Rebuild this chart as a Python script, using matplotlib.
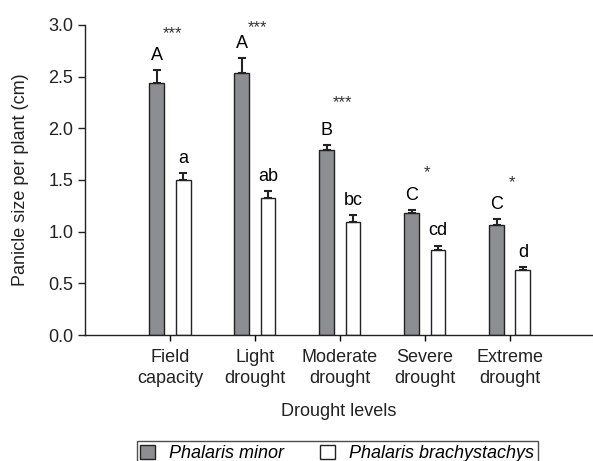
import matplotlib
matplotlib.use("Agg")
import matplotlib.pyplot as plt
import numpy as np

plt.rcParams['font.family'] = ['Liberation Sans', 'DejaVu Sans']

# data
levels = ["Field\ncapacity", "Light\ndrought", "Moderate\ndrought",
          "Severe\ndrought", "Extreme\ndrought"]
minor_mean = [2.44, 2.54, 1.79, 1.18, 1.065]
minor_err = [0.12, 0.14, 0.05, 0.03, 0.06]
brachy_mean = [1.50, 1.33, 1.09, 0.82, 0.63]
brachy_err = [0.065, 0.065, 0.07, 0.045, 0.03]
minor_letters = ["A", "A", "B", "C", "C"]
brachy_letters = ["a", "ab", "bc", "cd", "d"]
stars = ["***", "***", "***", "*", "*"]
star_y = [2.92, 2.97, 2.25, 1.57, 1.47]

x = np.arange(len(levels))
w = 0.175
off = 0.155
fs = 13

fig = plt.figure(figsize=(5.93, 4.61), dpi=100)
ax = fig.add_axes([0.1433, 0.2733, 0.8567, 0.6725])

ax.bar(x - off, minor_mean, w, color='#8d8e92', edgecolor='#222222', lw=1,
       yerr=[np.zeros(5), minor_err], capsize=3,
       error_kw=dict(ecolor='#222222', elinewidth=1.5, capthick=1.5),
       label='Phalaris minor')
ax.bar(x + off, brachy_mean, w, color='white', edgecolor='#222222', lw=1,
       yerr=[np.zeros(5), brachy_err], capsize=3,
       error_kw=dict(ecolor='#222222', elinewidth=1.5, capthick=1.5),
       label='Phalaris brachystachys')

for i in range(len(levels)):
    ax.text(x[i] - off, minor_mean[i] + minor_err[i] + 0.06, minor_letters[i],
            ha='center', va='bottom', fontsize=fs)
    ax.text(x[i] + off, brachy_mean[i] + brachy_err[i] + 0.06, brachy_letters[i],
            ha='center', va='bottom', fontsize=fs)
    ax.text(x[i] + 0.03, star_y[i], stars[i], ha='center', va='center',
            fontsize=12, color='#333333')

ax.set_xlim(-1.0, 4.98)
ax.set_ylim(0, 3.0)
ax.set_yticks(np.arange(0, 3.01, 0.5))
ax.set_yticklabels([f"{v:.1f}" for v in np.arange(0, 3.01, 0.5)])
ax.set_xticks(x)
ax.set_xticklabels(levels, fontsize=fs, color='#222222', linespacing=1.3)
ax.tick_params(axis='y', labelsize=fs, colors='#222222', length=5, width=1)
ax.tick_params(axis='x', length=4, width=1, pad=6)
ax.spines['top'].set_visible(False)
ax.spines['right'].set_visible(False)
for s in ['left', 'bottom']:
    ax.spines[s].set_color('#222222')
    ax.spines[s].set_linewidth(1)

ax.set_ylabel("Panicle size per plant (cm)", fontsize=fs, color='#222222', labelpad=14)
ax.set_xlabel("Drought levels", fontsize=fs, color='#222222', labelpad=12)

leg = fig.legend(loc='upper center', bbox_to_anchor=(0.569, 0.062), ncol=2,
                 frameon=True, fancybox=False, edgecolor='#222222',
                 handlelength=0.8, handleheight=0.8, columnspacing=2.0,
                 handletextpad=0.8,
                 prop=dict(style='italic', size=fs), borderpad=0.2)
leg.get_frame().set_linewidth(1)

fig.savefig("out.png", dpi=100)
